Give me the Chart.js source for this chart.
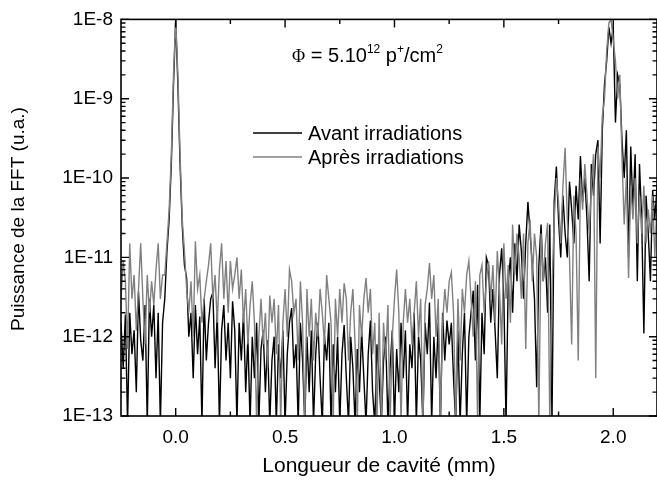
<!DOCTYPE html>
<html><head><meta charset="utf-8">
<script src="https://cdn.jsdelivr.net/npm/chart.js@4.4.0/dist/chart.umd.min.js"></script>
<style>html,body{margin:0;padding:0;background:#fff}#wrap{width:657px;height:482px}</style>
</head><body><div id="wrap"><canvas id="c" width="657" height="482"></canvas></div>
<script>
// Longueur de cavité (mm)
const xValues = [
-0.25,-0.24,-0.23,-0.22,-0.21,-0.2,-0.19,-0.18,-0.17,-0.16,
-0.15,-0.14,-0.13,-0.12,-0.11,-0.1,-0.09,-0.08,-0.07,-0.06,
-0.05,-0.04,-0.03,-0.02,-0.01,0,0.01,0.02,0.03,0.04,
0.05,0.06,0.07,0.08,0.09,0.1,0.11,0.12,0.13,0.14,
0.15,0.16,0.17,0.18,0.19,0.2,0.21,0.22,0.23,0.24,
0.25,0.26,0.27,0.28,0.29,0.3,0.31,0.32,0.33,0.34,
0.35,0.36,0.37,0.38,0.39,0.4,0.41,0.42,0.43,0.44,
0.45,0.46,0.47,0.48,0.49,0.5,0.51,0.52,0.53,0.54,
0.55,0.56,0.57,0.58,0.59,0.6,0.61,0.62,0.63,0.64,
0.65,0.66,0.67,0.68,0.69,0.7,0.71,0.72,0.73,0.74,
0.75,0.76,0.77,0.78,0.79,0.8,0.81,0.82,0.83,0.84,
0.85,0.86,0.87,0.88,0.89,0.9,0.91,0.92,0.93,0.94,
0.95,0.96,0.97,0.98,0.99,1,1.01,1.02,1.03,1.04,
1.05,1.06,1.07,1.08,1.09,1.1,1.11,1.12,1.13,1.14,
1.15,1.16,1.17,1.18,1.19,1.2,1.21,1.22,1.23,1.24,
1.25,1.26,1.27,1.28,1.29,1.3,1.31,1.32,1.33,1.34,
1.35,1.36,1.37,1.38,1.39,1.4,1.41,1.42,1.43,1.44,
1.45,1.46,1.47,1.48,1.49,1.5,1.51,1.52,1.53,1.54,
1.55,1.56,1.57,1.58,1.59,1.6,1.61,1.62,1.63,1.64,
1.65,1.66,1.67,1.68,1.69,1.7,1.71,1.72,1.73,1.74,
1.75,1.76,1.77,1.78,1.79,1.8,1.81,1.82,1.83,1.84,
1.85,1.86,1.87,1.88,1.89,1.9,1.91,1.92,1.93,1.94,
1.95,1.96,1.97,1.98,1.99,2,2.01,2.02,2.03,2.04,
2.05,2.06,2.07,2.08,2.09,2.1,2.11,2.12,2.13,2.14,
2.15,2.16,2.17,2.18,2.19,2.2
];

// Avant irradiations (black)
const avantIrradiations = [
1.5e-12,4e-13,1.9e-12,8e-14,2e-12,6e-13,1.2e-12,2e-13,3.7e-12,9e-13,
5e-13,2.5e-12,8e-14,3e-12,1e-12,2.5e-12,3e-13,2e-12,8e-14,1.5e-12,
3e-12,1.2e-11,3e-11,1.5e-10,1.5e-9,1e-8,1.5e-9,1.5e-10,2.5e-11,8e-12,
5.5e-12,1e-12,2e-12,3e-13,2.5e-12,6e-13,1.8e-12,8e-14,3e-12,5e-13,
1.5e-12,3e-12,3.6e-12,4e-13,2e-12,8e-14,1.2e-12,2.5e-12,5e-13,1.5e-12,
3e-13,2.8e-12,1.2e-12,8e-14,1.5e-12,5e-13,2e-12,2e-13,1e-12,8e-14,
1e-12,3e-13,1.5e-12,8e-14,7e-13,1.2e-12,2e-13,9e-13,8e-14,5e-13,
1e-12,8e-14,8e-13,3e-13,1.2e-12,8e-14,6e-13,1.5e-12,2.3e-12,4e-13,
8e-13,8e-14,1.5e-12,5e-13,8e-14,1e-12,2e-13,1.2e-12,8e-14,6e-13,
1.5e-12,3e-13,8e-14,1e-12,5e-13,1.5e-12,8e-14,8e-13,2e-13,1e-12,
8e-14,6e-13,1.4e-12,3e-13,8e-14,1e-12,4e-13,8e-14,7e-13,2e-13,
1.2e-12,3e-13,8e-14,6e-13,1.6e-12,2e-13,8e-14,8e-13,3e-13,8e-14,
5e-13,1e-12,8e-14,4e-13,1.2e-12,8e-14,7e-13,2e-13,1.5e-12,3e-13,
1.2e-12,8e-14,8e-13,4e-13,2e-12,8e-14,1e-12,5e-13,8e-14,1.5e-12,
6e-13,2.7e-12,8e-14,1e-12,3e-13,1.5e-12,8e-14,2e-12,5e-13,1.6e-12,
8e-13,1.5e-12,3e-13,8e-14,1.2e-12,8e-14,6e-13,2e-12,8e-14,1e-12,
2e-12,3.8e-12,5e-13,4.5e-12,8e-14,2e-12,6e-13,1e-11,8e-12,1.5e-12,
4e-12,1.2e-12,3e-13,6e-12,1.3e-11,3e-12,8e-14,5e-12,1e-11,2e-12,
1.5e-11,5e-12,2.6e-11,1.2e-11,3e-12,1.5e-11,5e-11,2e-11,8e-12,3e-12,
2.3e-13,8e-12,2.6e-11,5e-12,1e-11,2e-12,2.6e-11,8e-14,5e-11,1.4e-10,
3e-11,1e-11,6e-11,2e-11,1e-11,9e-11,4e-11,1.5e-11,8e-11,3e-11,
1.9e-10,5e-11,1e-10,3e-11,5e-12,1.5e-10,6e-11,2e-10,3e-10,1.5e-11,
4e-10,1.5e-9,3e-9,8e-9,5e-9,8e-9,5e-10,2e-9,1.5e-9,3e-10,
1e-10,4e-10,1e-11,2.5e-10,4e-11,2e-10,5e-12,1.5e-10,3e-11,1.1e-12,
6e-11,2e-11,5e-12,7e-11,3e-11,8e-11
];

// Après irradiations (gray)
const apresIrradiations = [
3e-12,9e-12,5e-12,7e-13,1.5e-11,3e-12,6e-12,1.2e-12,4e-12,1.5e-11,
3e-12,8e-13,6e-12,2e-12,5e-12,2.5e-12,7e-12,1.5e-11,3e-12,6e-12,
6e-12,1.5e-11,4e-11,2e-10,2e-9,1e-8,2e-9,2e-10,3e-11,1.2e-11,
4e-12,2e-12,5e-12,1e-12,1.6e-11,4e-12,6e-12,1.5e-12,3e-12,5e-12,
8e-12,1.5e-11,3e-12,6e-12,1.5e-12,7e-12,1.5e-11,3e-12,9e-12,2e-12,
9e-12,4e-12,6e-12,1e-11,3e-12,7e-12,1.5e-12,4e-12,8e-13,2.5e-12,
5e-12,1.5e-12,8e-14,1e-12,3e-12,8e-13,2e-12,4e-13,3.3e-12,1.5e-12,
3e-12,6e-13,2.5e-12,8e-14,1.5e-12,4e-12,1e-12,7e-12,5e-12,2e-12,
3e-12,5e-13,5e-12,1.5e-12,8e-14,4e-12,1e-12,3e-12,5e-13,2e-12,
1e-12,4e-12,2e-12,8e-13,6e-12,3e-12,1.5e-12,8e-14,3e-12,1e-12,
4e-12,1.5e-12,4.7e-12,3e-12,5e-13,2e-12,4e-12,8e-13,8e-14,2.5e-12,
1e-12,3e-12,5.5e-12,2e-12,4e-12,6e-13,1.5e-12,8e-14,2e-12,8e-14,
1.5e-12,5e-13,2.5e-12,8e-14,1e-12,3e-12,7e-12,2e-12,8e-14,1.5e-12,
4e-12,1.5e-12,3e-12,8e-13,2e-12,5e-12,1e-12,3e-12,8e-14,2.5e-12,
4e-12,8.5e-12,3e-12,6e-12,1e-12,3e-12,8e-14,1.5e-12,4e-12,2e-12,
5e-12,6.5e-12,2e-12,8e-14,3e-12,5e-13,4e-12,2e-12,6e-12,9e-12,
3e-12,1e-12,5e-12,8e-14,6e-12,8e-12,2e-12,5e-12,9e-12,3e-12,
8e-12,1.5e-12,1.2e-11,4e-12,8e-13,1.5e-11,3e-12,8e-12,1.5e-12,2.6e-11,
6e-12,2e-11,1e-11,3e-12,2e-11,7e-13,1.5e-11,3e-11,5e-12,2e-11,
1e-11,8e-14,2e-11,5e-12,1.5e-11,2.7e-11,8e-14,4e-12,3e-11,1e-10,
5e-11,1.5e-11,8e-11,2.4e-10,3e-11,1e-11,8e-13,6e-11,2e-11,5e-13,
1e-10,4e-11,1.5e-10,6e-11,2e-11,8e-11,2e-10,3e-13,2.5e-10,1e-10,
6e-10,1e-9,4e-9,9e-9,1e-8,5.5e-9,3e-9,1e-9,2e-9,1.8e-10,
2.6e-11,1e-10,5.5e-12,8e-11,3e-11,1e-10,1.5e-11,6e-11,2e-11,8e-11,
1.5e-11,4e-11,2e-11,6e-11,1e-11,5e-11
];

const seriesLabels = ['Avant irradiations', 'Après irradiations'];
const seriesColors = ['#000000', '#808080'];
const xMajorTicks = [0, 0.5, 1, 1.5, 2];
const xMinorTicks = [0.25, 0.75, 1.25, 1.75];
const yTickValues = [1e-13, 1e-12, 1e-11, 1e-10, 1e-9, 1e-8];
const yTickLabels = ['1E-13', '1E-12', '1E-11', '1E-10', '1E-9', '1E-8'];
const xTitle = 'Longueur de cavité (mm)';
const yTitle = 'Puissance de la FFT (u.a.)';

const FONT = '"Liberation Sans", Arial, sans-serif';

const frameTicks = {
  id: 'frameTicks',
  afterDatasetsDraw(chart) {
    const {ctx, chartArea: a, scales: {x, y}} = chart;
    ctx.save();
    ctx.strokeStyle = '#000';
    ctx.lineWidth = 1.6;
    ctx.strokeRect(a.left, a.top, a.right - a.left, a.bottom - a.top);
    ctx.lineWidth = 1.4;
    const vt = (px, len) => {
      ctx.beginPath();
      ctx.moveTo(px, a.bottom); ctx.lineTo(px, a.bottom - len);
      ctx.moveTo(px, a.top); ctx.lineTo(px, a.top + len);
      ctx.stroke();
    };
    const ht = (py, len) => {
      ctx.beginPath();
      ctx.moveTo(a.left, py); ctx.lineTo(a.left + len, py);
      ctx.moveTo(a.right, py); ctx.lineTo(a.right - len, py);
      ctx.stroke();
    };
    xMajorTicks.forEach(v => vt(x.getPixelForValue(v), 8));
    xMinorTicks.forEach(v => vt(x.getPixelForValue(v), 4.5));
    yTickValues.forEach((d, i) => {
      ht(y.getPixelForValue(d), 8);
      if (i < yTickValues.length - 1) {
        for (let m = 2; m <= 9; m++) ht(y.getPixelForValue(d * m), 4.5);
      }
    });
    ctx.restore();
  }
};

const annotations = {
  id: 'annotations',
  afterDraw(chart) {
    const {ctx} = chart;
    ctx.save();
    ctx.fillStyle = '#000';
    ctx.textBaseline = 'alphabetic';
    // Phi annotation
    let xpos = 292, base = 62;
    const put = (txt, font, dy) => {
      ctx.font = font;
      ctx.fillText(txt, xpos, base + (dy || 0));
      xpos += ctx.measureText(txt).width;
    };
    put('\u03A6', '18px "Liberation Serif", serif');
    put(' = 5.10', '20px ' + FONT);
    put('12', '12px ' + FONT, -9);
    put(' p', '20px ' + FONT);
    put('+', '12px ' + FONT, -9);
    put('/cm', '20px ' + FONT);
    put('2', '12px ' + FONT, -9);
    // legend
    const rows = [133, 157];
    chart.data.datasets.forEach((ds, i) => {
      ctx.strokeStyle = ds.borderColor;
      ctx.lineWidth = 1.5;
      ctx.beginPath();
      ctx.moveTo(253, rows[i]); ctx.lineTo(302, rows[i]);
      ctx.stroke();
      ctx.font = '20px ' + FONT;
      ctx.textBaseline = 'middle';
      ctx.fillText(ds.label, 308, rows[i] + 1);
    });
    // axis titles
    ctx.textAlign = 'center';
    ctx.textBaseline = 'middle';
    ctx.font = '21px ' + FONT;
    ctx.fillText(xTitle, 379, 466);
    ctx.translate(19, 219);
    ctx.rotate(-Math.PI / 2);
    ctx.font = '19px ' + FONT;
    ctx.fillText(yTitle, 0, 0);
    ctx.restore();
  }
};

const datasets = [avantIrradiations, apresIrradiations].map((arr, k) => ({
  label: seriesLabels[k],
  data: xValues.map((xv, i) => ({x: xv, y: arr[i]})),
  borderColor: seriesColors[k],
  borderWidth: 1.4,
  pointRadius: 0,
  tension: 0,
  fill: false,
  order: k === 0 ? 1 : 0
}));

new Chart(document.getElementById('c'), {
  type: 'line',
  data: {datasets},
  options: {
    responsive: false,
    animation: false,
    devicePixelRatio: 1,
    layout: {padding: {left: 0, top: 16, right: -4, bottom: 0}},
    plugins: {legend: {display: false}, tooltip: {enabled: false}},
    scales: {
      x: {
        type: 'linear',
        min: -0.25, max: 2.2,
        afterBuildTicks: s => { s.ticks = xMajorTicks.map(v => ({value: v})); },
        afterFit: s => { s.height = 66; },
        grid: {display: false, drawTicks: false},
        border: {display: false},
        ticks: {
          color: '#000', padding: 10, maxRotation: 0,
          font: {family: FONT, size: 19},
          callback: v => Number(v).toFixed(1)
        },
        title: {display: false, text: xTitle}
      },
      y: {
        type: 'logarithmic',
        min: 1e-13, max: 1e-8,
        afterBuildTicks: s => { s.ticks = yTickValues.map(v => ({value: v})); },
        afterFit: s => { s.width = 121; },
        grid: {display: false, drawTicks: false},
        border: {display: false},
        ticks: {
          color: '#000', padding: 8,
          font: {family: FONT, size: 19},
          callback: v => yTickLabels[yTickValues.findIndex(t => Math.abs(Math.log10(t) - Math.log10(v)) < 1e-6)]
        },
        title: {display: false, text: yTitle}
      }
    }
  },
  plugins: [frameTicks, annotations]
});
</script>
</body></html>
